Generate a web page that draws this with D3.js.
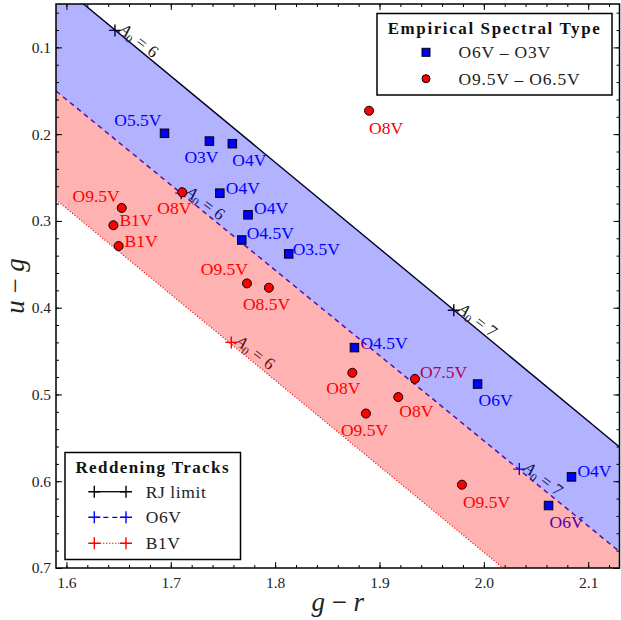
<!DOCTYPE html>
<html><head><meta charset="utf-8">
<script src="https://cdn.jsdelivr.net/npm/d3@7"></script>
<style>
body{margin:0;background:#fff}
svg{display:block}
</style>
</head><body>
<svg id="c" width="621" height="620"></svg>
<script>
// ---------------- data ----------------
const xDomain = [1.59, 2.13];
const yDomain = [0.05, 0.70];
const xTickValues = [1.6, 1.7, 1.8, 1.9, 2.0, 2.1];
const yTickValues = [0.1, 0.2, 0.3, 0.4, 0.5, 0.6, 0.7];

// Empirical spectral type O6V - O3V (blue squares)
const earlyTypes = ["O5.5V","O3V","O4V","O4V","O4V","O4.5V","O3.5V","O4.5V","O6V","O4V","O6V"];
const earlyGR    = [1.694, 1.737, 1.759, 1.747, 1.774, 1.768, 1.813, 1.876, 1.994, 2.084, 2.062];
const earlyUG    = [0.199, 0.208, 0.211, 0.268, 0.293, 0.322, 0.338, 0.446, 0.488, 0.595, 0.628];

// Empirical spectral type O9.5V - O6.5V (red circles)
const lateTypes = ["O8V","O8V","O9.5V","B1V","B1V","O9.5V","O8.5V","O8V","O7.5V","O8V","O9.5V","O9.5V"];
const lateGR    = [1.890, 1.711, 1.653, 1.645, 1.650, 1.773, 1.794, 1.874, 1.934, 1.918, 1.887, 1.979];
const lateUG    = [0.173, 0.267, 0.285, 0.305, 0.329, 0.372, 0.377, 0.475, 0.482, 0.503, 0.522, 0.604];

// Reddening tracks (g-r, u-g)
const trackRJ_GR = [1.55, 2.20], trackRJ_UG = [-0.016, 0.630];
const trackO6_GR = [1.55, 2.20], trackO6_UG = [0.111, 0.750];
const trackB1_GR = [1.55, 2.20], trackB1_UG = [0.236, 0.880];

// A0 markers on tracks
const a0RJ = [6, 7], a0RJ_GR = [1.6465, 1.9712], a0RJ_UG = [0.0804, 0.403];
const a0O6 = [6, 7], a0O6_GR = [1.710, 2.034],   a0O6_UG = [0.268, 0.586];
const a0B1 = [6],    a0B1_GR = [1.758],          a0B1_UG = [0.440];

const legend1Title = "Empirical Spectral Type";
const legend1Labels = ["O6V \u2013 O3V", "O9.5V \u2013 O6.5V"];
const legend2Title = "Reddening Tracks";
const legend2Labels = ["RJ limit", "O6V", "B1V"];

// ---------------- layout (label placement, px offsets) ----------------
const earlyLabelPos = [[-3,-7,"end"],[-25,22,"start"],[0,22,"start"],[6,1,"start"],[6,-1,"start"],
  [5,-1,"start"],[4,1,"start"],[6,1,"start"],[1,22,"start"],[6,0,"start"],[1,22,"start"]];
const lateLabelPos = [[0,23,"start"],[-25,22,"start"],[-2,-6,"end"],[6,1,"start"],[6,1,"start"],
  [1,-8,"end"],[-26,22,"start"],[-26,21,"start"],[5,-1,"start"],[1,20,"start"],[-25,22,"start"],[1,23,"start"]];

const FONT = '"Liberation Serif", "Times New Roman", serif';
const BLUE = "#0000ff", RED = "#ff0000";
const svg = d3.select("#c");
const M = {l:56, r:619.5, t:4, b:568};
const x = d3.scaleLinear().domain(xDomain).range([M.l, M.r]);
const y = d3.scaleLinear().domain(yDomain).range([M.t, M.b]);
const T = (g)=>g.append("text").style("font-family", FONT);

svg.append("defs").append("clipPath").attr("id","clip")
  .append("rect").attr("x",M.l).attr("y",M.t).attr("width",M.r-M.l).attr("height",M.b-M.t);

const plot = svg.append("g").attr("clip-path","url(#clip)");
const line = d3.line().x(d=>x(d[0])).y(d=>y(d[1]));
const zip = (a,b)=>a.map((v,i)=>[v,b[i]]);

const rj = zip(trackRJ_GR, trackRJ_UG), o6 = zip(trackO6_GR, trackO6_UG), b1 = zip(trackB1_GR, trackB1_UG);

// --- tracks (drawn below fills) ---
plot.append("path").attr("d", line(rj)).attr("fill","none").attr("stroke","#000").attr("stroke-width",1.4);
plot.append("path").attr("d", line(o6)).attr("fill","none").attr("stroke","#3a1cc0").attr("stroke-width",1.5).attr("stroke-dasharray","5,4");
plot.append("path").attr("d", line(b1)).attr("fill","none").attr("stroke",RED).attr("stroke-width",1.2).attr("stroke-dasharray","1,2");

function plus(g, cx, cy, color, s){
  g.append("path").attr("d",`M${cx-s},${cy}H${cx+s}M${cx},${cy-s}V${cy+s}`)
   .attr("stroke",color).attr("stroke-width",1.4).attr("fill","none");
}
function a0Marks(gr, ug, vals, track, color){
  const ang = Math.atan2(y(track[1][1])-y(track[0][1]), x(track[1][0])-x(track[0][0]))*180/Math.PI - 2;
  gr.forEach((g,i)=>{
    const px = x(g), py = y(ug[i]);
    plus(plot, px, py, color, 6);
    const t = T(plot).attr("transform",`translate(${px},${py}) rotate(${ang})`)
      .attr("x",3).attr("y",-1).attr("font-size",17).attr("fill","#1a1a1a");
    t.append("tspan").attr("font-style","italic").text("A");
    t.append("tspan").attr("font-size",11.5).attr("dy",3).text("0");
    t.append("tspan").attr("dy",-3).attr("dx",5).text("=");
    t.append("tspan").attr("dx",5).text(vals[i]);
  });
}
a0Marks(a0RJ_GR, a0RJ_UG, a0RJ, rj, "#000");
a0Marks(a0O6_GR, a0O6_UG, a0O6, o6, BLUE);
a0Marks(a0B1_GR, a0B1_UG, a0B1, b1, RED);

// --- point labels ---
earlyTypes.forEach((t,i)=>{
  const p = earlyLabelPos[i];
  T(plot).attr("x", x(earlyGR[i])+p[0]).attr("y", y(earlyUG[i])+p[1])
    .attr("text-anchor", p[2]).attr("font-size",17.5).attr("fill",BLUE).text(t);
});
lateTypes.forEach((t,i)=>{
  const p = lateLabelPos[i];
  T(plot).attr("x", x(lateGR[i])+p[0]).attr("y", y(lateUG[i])+p[1])
    .attr("text-anchor", p[2]).attr("font-size",17.5).attr("fill",RED).text(t);
});

// --- fills (semi-transparent, over text & lines) ---
plot.append("path").attr("d", line(rj.concat(o6.slice().reverse()))+"Z").attr("fill",BLUE).attr("fill-opacity",0.3);
plot.append("path").attr("d", line(o6.concat(b1.slice().reverse()))+"Z").attr("fill",RED).attr("fill-opacity",0.3);

// --- scatter markers ---
const sq = 8.5;
plot.selectAll(".sq").data(earlyGR).enter().append("rect")
  .attr("x",(d,i)=>x(d)-sq/2).attr("y",(d,i)=>y(earlyUG[i])-sq/2)
  .attr("width",sq).attr("height",sq).attr("fill",BLUE).attr("stroke","#000").attr("stroke-width",1);
plot.selectAll(".ci").data(lateGR).enter().append("circle")
  .attr("cx",d=>x(d)).attr("cy",(d,i)=>y(lateUG[i])).attr("r",4.5)
  .attr("fill",RED).attr("stroke","#000").attr("stroke-width",1);

// --- axes ---
const minorX = d3.range(1.6, 2.1301, 0.02), minorY = d3.range(0.06, 0.7001, 0.02);
function styleAxis(g){ g.select(".domain").remove(); g.selectAll("line").attr("stroke","#000").attr("stroke-width",1);
  g.selectAll("text").style("font-family",FONT).attr("font-size",15.5).attr("fill","#222"); }
svg.append("g").attr("transform",`translate(0,${M.b})`)
  .call(d3.axisBottom(x).tickValues(xTickValues).tickSize(-6).tickPadding(9).tickFormat(d3.format(".1f"))).call(styleAxis);
svg.append("g").attr("transform",`translate(0,${M.b})`).call(d3.axisBottom(x).tickValues(minorX).tickSize(-3).tickFormat("")).call(styleAxis);
svg.append("g").attr("transform",`translate(0,${M.t})`).call(d3.axisTop(x).tickValues(xTickValues).tickSize(-6).tickFormat("")).call(styleAxis);
svg.append("g").attr("transform",`translate(0,${M.t})`).call(d3.axisTop(x).tickValues(minorX).tickSize(-3).tickFormat("")).call(styleAxis);
svg.append("g").attr("transform",`translate(${M.l},0)`)
  .call(d3.axisLeft(y).tickValues(yTickValues).tickSize(-6).tickPadding(5).tickFormat(d3.format(".1f"))).call(styleAxis);
svg.append("g").attr("transform",`translate(${M.l},0)`).call(d3.axisLeft(y).tickValues(minorY).tickSize(-3).tickFormat("")).call(styleAxis);
svg.append("g").attr("transform",`translate(${M.r},0)`).call(d3.axisRight(y).tickValues(yTickValues).tickSize(-6).tickFormat("")).call(styleAxis);
svg.append("g").attr("transform",`translate(${M.r},0)`).call(d3.axisRight(y).tickValues(minorY).tickSize(-3).tickFormat("")).call(styleAxis);

svg.append("rect").attr("x",M.l).attr("y",M.t).attr("width",M.r-M.l).attr("height",M.b-M.t)
  .attr("fill","none").attr("stroke","#000").attr("stroke-width",1.5);

// axis titles
const xt = T(svg).attr("x",(M.l+M.r)/2).attr("y",611).attr("text-anchor","middle").attr("font-size",27).attr("fill","#222");
xt.append("tspan").attr("font-style","italic").text("g");
xt.append("tspan").text(" \u2212 ");
xt.append("tspan").attr("font-style","italic").text("r");
const yt = T(svg).attr("transform",`translate(24,${(M.t+M.b)/2}) rotate(-90)`).attr("text-anchor","middle").attr("font-size",27).attr("fill","#222");
yt.append("tspan").attr("font-style","italic").text("u");
yt.append("tspan").text(" \u2212 ");
yt.append("tspan").attr("font-style","italic").text("g");

// --- legend 1 ---
const L1 = svg.append("g");
L1.append("rect").attr("x",377).attr("y",13.5).attr("width",235).attr("height",81.5).attr("fill","#fff").attr("stroke","#000").attr("stroke-width",1.5);
T(L1).attr("x",494.5).attr("y",34).attr("text-anchor","middle").attr("font-size",17).attr("font-weight","bold")
  .attr("letter-spacing",1.6).attr("fill","#111").text(legend1Title);
L1.append("rect").attr("x",426-4).attr("y",52.3-4).attr("width",8).attr("height",8).attr("fill",BLUE).attr("stroke","#000").attr("stroke-width",1);
L1.append("circle").attr("cx",426).attr("cy",78.7).attr("r",4).attr("fill",RED).attr("stroke","#000").attr("stroke-width",1);
legend1Labels.forEach((t,i)=>T(L1).attr("x",458.5).attr("y",[58.3,84.7][i]).attr("font-size",17.5).attr("letter-spacing",0.8).attr("fill","#222").text(t));

// --- legend 2 ---
const L2 = svg.append("g");
L2.append("rect").attr("x",65).attr("y",452.5).attr("width",175.5).attr("height",107).attr("fill","#fff").attr("stroke","#000").attr("stroke-width",1.5);
T(L2).attr("x",152.7).attr("y",472.5).attr("text-anchor","middle").attr("font-size",17).attr("font-weight","bold")
  .attr("letter-spacing",1.4).attr("fill","#111").text(legend2Title);
const l2y = [491.7, 517.3, 543.3], l2c = ["#000", BLUE, RED], l2d = [null, "5,4", "1,2"];
legend2Labels.forEach((t,i)=>{
  L2.append("line").attr("x1",94.3).attr("x2",126).attr("y1",l2y[i]).attr("y2",l2y[i]).attr("stroke",l2c[i]).attr("stroke-width",1.3).attr("stroke-dasharray",l2d[i]);
  plus(L2, 94.3, l2y[i], l2c[i], 6);
  plus(L2, 126, l2y[i], l2c[i], 6);
  T(L2).attr("x",145.7).attr("y",l2y[i]+6).attr("font-size",17.5).attr("letter-spacing",0.6).attr("fill","#222").text(t);
});
</script>
</body></html>
